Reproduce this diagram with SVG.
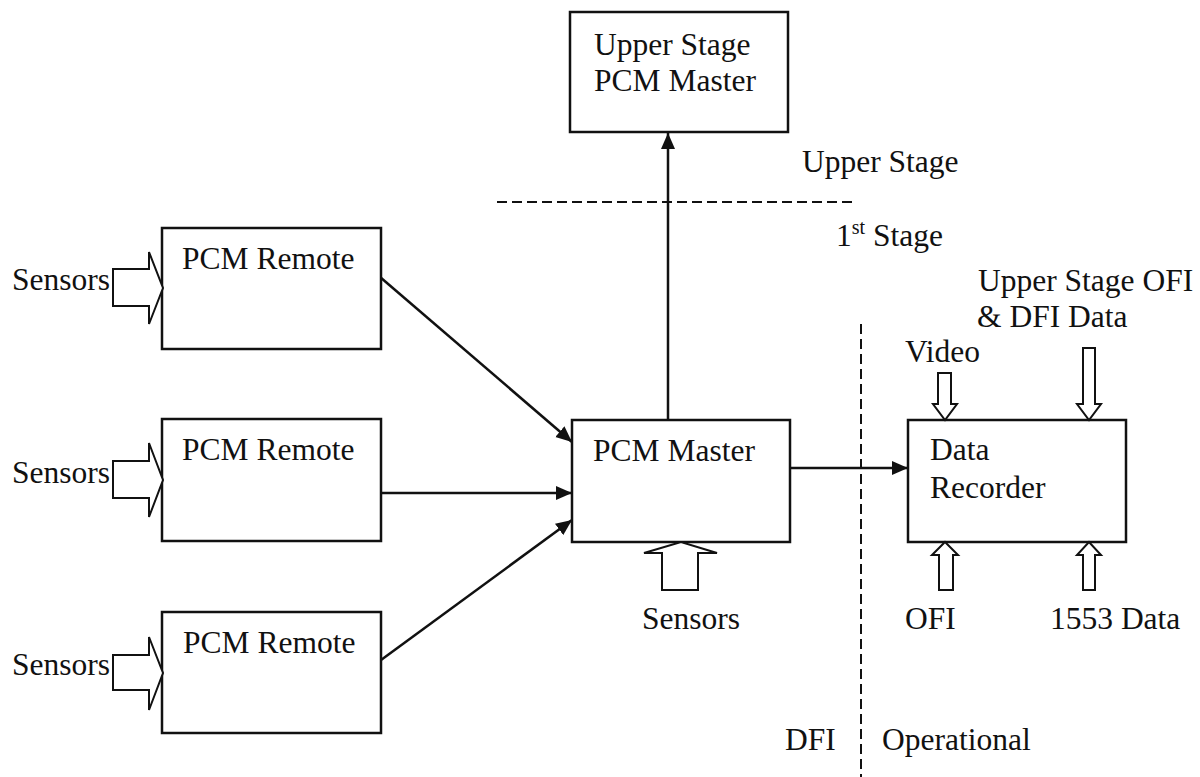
<svg xmlns="http://www.w3.org/2000/svg" width="1200" height="777" viewBox="0 0 1200 777">
  <style>
    text { font-family: "Liberation Serif", "Times New Roman", serif; font-size: 31.5px; fill: #111; }
    .box { fill: #fff; stroke: #111; stroke-width: 2.5; }
    .wire { fill: none; stroke: #111; stroke-width: 2.5; }
    .hollow { fill: #fff; stroke: #111; stroke-width: 2; stroke-linejoin: miter; }
    .divider { fill: none; stroke: #111; stroke-width: 2; stroke-dasharray: 10 5; }
  </style>
  <defs>
    <marker id="head" markerUnits="userSpaceOnUse" markerWidth="17" markerHeight="15" refX="16" refY="7" orient="auto">
      <path d="M0,0 L16,7 L0,14 z" fill="#111"/>
    </marker>
  </defs>
  <rect width="1200" height="777" fill="#fff"/>

  <!-- stage / domain dividers -->
  <g id="dividers">
    <line class="divider" x1="497" y1="202" x2="855" y2="202"/>
    <line class="divider" x1="861" y1="324" x2="861" y2="777"/>
    <text x="802" y="172">Upper Stage</text>
    <text x="836" y="246">1<tspan font-size="20" dy="-12">st</tspan><tspan dy="12"> Stage</tspan></text>
    <text x="785" y="750">DFI</text>
    <text x="882" y="750">Operational</text>
  </g>

  <!-- signal connectors -->
  <g id="connectors">
    <line class="wire" x1="380" y1="277" x2="572" y2="442" marker-end="url(#head)"/>
    <line class="wire" x1="381" y1="493" x2="572" y2="493" marker-end="url(#head)"/>
    <line class="wire" x1="381" y1="660" x2="572" y2="520" marker-end="url(#head)"/>
    <line class="wire" x1="668" y1="420" x2="668" y2="133" marker-end="url(#head)"/>
    <line class="wire" x1="790" y1="468" x2="908" y2="468" marker-end="url(#head)"/>
  </g>

  <g id="upper-stage-master">
    <rect class="box" x="570" y="12" width="218" height="120"/>
    <text x="594" y="55">Upper Stage</text>
    <text x="594" y="91">PCM Master</text>
  </g>

  <g id="pcm-remote-1">
    <rect class="box" x="162" y="228" width="219" height="121"/>
    <text x="182" y="269">PCM Remote</text>
    <polygon class="hollow" points="113,269 149,269 149,252 163,288 149,324 149,306 113,306"/>
    <text x="12" y="290">Sensors</text>
  </g>

  <g id="pcm-remote-2">
    <rect class="box" x="162" y="419" width="219" height="122"/>
    <text x="182" y="460">PCM Remote</text>
    <polygon class="hollow" points="113,461 149,461 149,443 163,480 149,517 149,498 113,498"/>
    <text x="12" y="483">Sensors</text>
  </g>

  <g id="pcm-remote-3">
    <rect class="box" x="162" y="612" width="219" height="121"/>
    <text x="183" y="653">PCM Remote</text>
    <polygon class="hollow" points="113,655 149,655 149,637 163,673 149,710 149,690 113,690"/>
    <text x="12" y="675">Sensors</text>
  </g>

  <g id="pcm-master">
    <rect class="box" x="572" y="420" width="218" height="122"/>
    <text x="593" y="461">PCM Master</text>
    <polygon class="hollow" points="662,590 662,553 644,553 681,542 717,553 698,553 698,590"/>
    <text x="642" y="629">Sensors</text>
  </g>

  <g id="data-recorder">
    <rect class="box" x="908" y="420" width="218" height="122"/>
    <text x="930" y="460">Data</text>
    <text x="930" y="498">Recorder</text>
    <polygon class="hollow" points="938,373 951,373 951,404 957,404 945,420 933,404 938,404"/>
    <text x="905" y="362">Video</text>
    <polygon class="hollow" points="1083,348 1095,348 1095,404 1101,404 1089,420 1077,404 1083,404"/>
    <text x="978" y="291">Upper Stage OFI</text>
    <text x="977" y="327">&amp; DFI Data</text>
    <polygon class="hollow" points="939,590 939,555 932,555 945,542 958,555 953,555 953,590"/>
    <text x="905" y="629">OFI</text>
    <polygon class="hollow" points="1083,590 1083,555 1077,555 1089,542 1101,555 1095,555 1095,590"/>
    <text x="1050" y="629">1553 Data</text>
  </g>
</svg>
